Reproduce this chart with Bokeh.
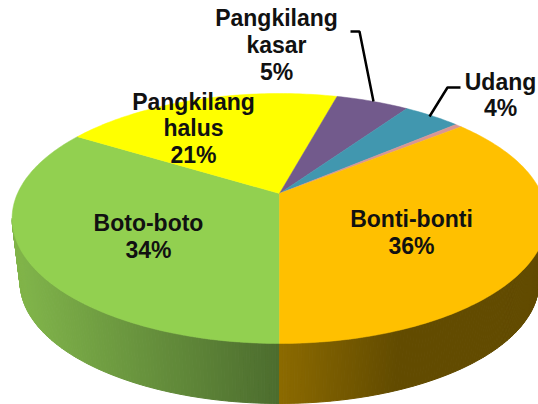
import math
from bokeh.plotting import figure
from bokeh.core.properties import value
from bokeh.embed import file_html
from bokeh.resources import INLINE

# data (clockwise from the front of the pie)
categories = ["Boto-boto", "Pangkilang halus", "Pangkilang kasar", "Udang", "Lain", "Bonti-bonti"]
percents = [34, 20.6, 5.4, 4.2, 0.5, 36]
shown = ["34%", "21%", "5%", "4%", None, "36%"]
colors = ["#92D050", "#FFFF00", "#725A8C", "#4197AF", "#D99694", "#FFC000"]

# layout / style
W, H = 538, 404
CX, CY, RX, A, K = 279, 193, 262, 120, 0.2
DY, S = 64.5, 0.97
label_lines_y = {"Boto-boto": (148, [222, 249]), "Pangkilang halus": (193, [101, 127, 154]),
                 "Pangkilang kasar": (276, [17, 44, 71]), "Udang": (500, [81, 107]),
                 "Bonti-bonti": (411, [218, 245])}
leaders = [([350, 359, 373], [31, 31, 101]), ([460, 447, 429], [87, 87, 116])]


def rim(deg, dy=0.0, s=1.0):
    t = math.radians(deg)
    w = 1 + K * math.cos(t)
    return CX + s * RX * math.sin(t) / w, CY + dy + s * (-A * math.cos(t) / w)


def mix(c1, c2, f):
    f = max(0, min(1, f))
    a = [int(c1[i:i + 2], 16) for i in (1, 3, 5)]
    b = [int(c2[i:i + 2], 16) for i in (1, 3, 5)]
    return "#%02x%02x%02x" % tuple(round(a[i] + (b[i] - a[i]) * f) for i in range(3))


p = figure(width=W, height=H, x_range=(0, W), y_range=(H, 0), output_backend="svg",
           toolbar_location=None, min_border=0, outline_line_color=None,
           x_axis_location=None, y_axis_location=None)
p.grid.visible = False

# visible side walls
xs, ys, cs = [], [], []
silhouette = 78.5  # degrees either side of the front where the wall disappears
for i in range(120):
    a0 = 180 + silhouette * i / 120
    a1 = 180 + silhouette * (i + 1) / 120
    x0, y0 = rim(a0); x1, y1 = rim(a1)
    x2, y2 = rim(a1, DY, S); x3, y3 = rim(a0, DY, S)
    xs.append([x0, x1, x2, x3]); ys.append([y0, y1, y2, y3])
    cs.append(mix("#4C6C2E", "#80B44A", (CX - (x0 + x1) / 2) / 260))
    a0 = 180 - silhouette * i / 120
    a1 = 180 - silhouette * (i + 1) / 120
    x0, y0 = rim(a0); x1, y1 = rim(a1)
    x2, y2 = rim(a1, DY, S); x3, y3 = rim(a0, DY, S)
    xs.append([x0, x1, x2, x3]); ys.append([y0, y1, y2, y3])
    cs.append(mix("#8C6A00", "#624B00", ((x0 + x1) / 2 - CX) / 120))
p.patches(xs, ys, fill_color=cs, line_color=cs, line_width=1)

# top face
total = sum(percents)
start = 180.0
for pct, col in zip(percents, colors):
    sweep = 360 * pct / total
    n = max(2, int(sweep))
    pts = [rim(start + sweep * j / n) for j in range(n + 1)]
    p.patch([CX] + [q[0] for q in pts], [CY] + [q[1] for q in pts],
            fill_color=col, line_color=col, line_width=0.5)
    start += sweep

for lx, ly in leaders:
    p.line(lx, ly, line_color="black", line_width=2.5)

tx, ty, tt = [], [], []
for name, pct_text in zip(categories, shown):
    if pct_text is None:
        continue
    cx, rows = label_lines_y[name]
    lines = (name.split(" ") if " " in name else [name]) + [pct_text]
    for line, y in zip(lines, rows):
        tx.append(cx); ty.append(y); tt.append(line)
p.text(tx, ty, text=tt, text_font=value("Liberation Sans"), text_font_size="23px",
       text_font_style="bold", text_align="center", text_baseline="middle", text_color="#111111")

open("out.html", "w").write(file_html(p, INLINE))
